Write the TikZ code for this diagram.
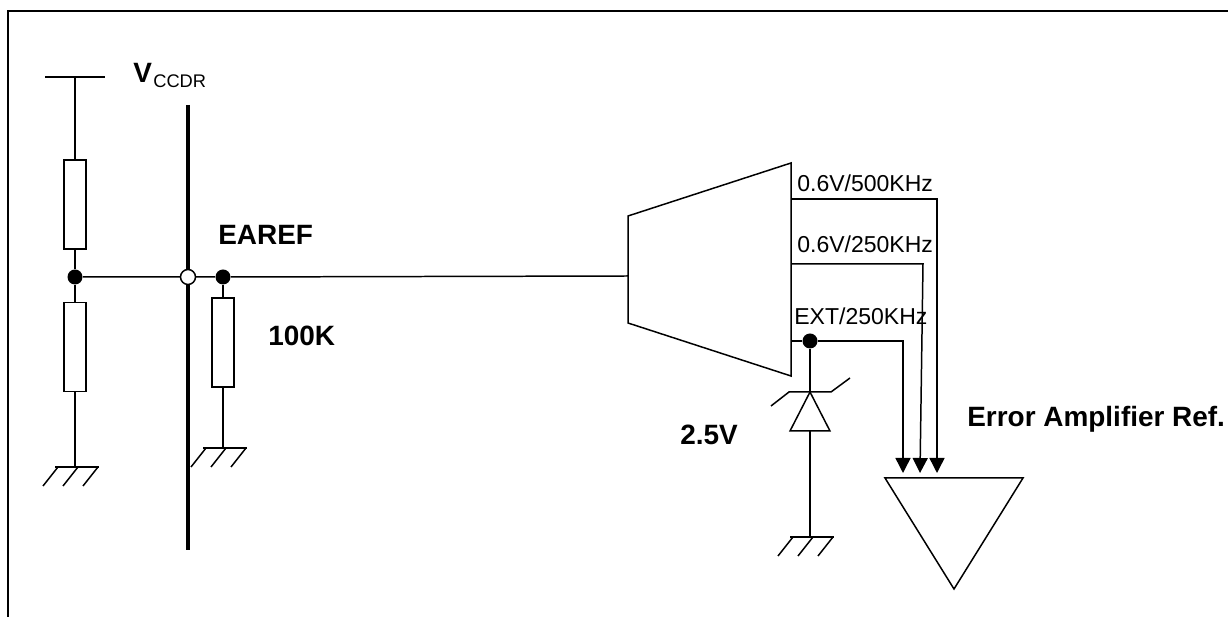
\documentclass[tikz,border=0pt]{standalone}
\usepackage{fontspec}
\setmainfont{Liberation Sans}
\usetikzlibrary{arrows.meta, calc, positioning}

\tikzset{
  wire/.style={line width=0.85pt},
  bus/.style={line width=2.3pt},
  frame/.style={line width=1.4pt},
  res/.style={draw, line width=0.85pt, fill=white, minimum width=0.44cm, minimum height=1.78cm, inner sep=0pt},
  jdot/.style={circle, fill=black, inner sep=0pt, minimum size=0.3cm},
  odot/.style={circle, draw, fill=white, line width=0.85pt, inner sep=0pt, minimum size=0.3cm},
  lbl/.style={font=\bfseries\fontsize{15.9}{18}\selectfont, inner sep=0pt, anchor=base west},
  sublbl/.style={font=\fontsize{10.4}{12}\selectfont, inner sep=0pt, anchor=base west},
  tap/.style={font=\fontsize{13.1}{15}\selectfont, inner sep=0pt, anchor=base west},
  tip/.style={-{Triangle[length=0.3cm, width=0.3cm]}},
  gnd/.pic={
    \draw[wire] (-20,0) -- (24,0);
    \foreach \h in {-17,3,23} \draw[wire] (\h,0) -- ++(-15,19);
  }
}

\begin{document}
\begin{tikzpicture}[x=0.02cm, y=-0.02cm]
  \useasboundingbox (0,0) rectangle (1228,617);

  % frame
  \draw[frame] (8,617) -- (8,11) -- (1228,11);

  % bus
  \coordinate (bustop) at (188,105);
  \coordinate (busbot) at (188,550);
  \draw[bus] (bustop) -- (busbot);

  % divider
  \coordinate (vtop) at (75,77);
  \draw[wire] ($(vtop)+(-30,0)$) -- ($(vtop)+(30,0)$);
  \node[res] (rtop) at (75,204.5) {};
  \node[res] (rbot) at (75,347) {};
  \node[jdot] (jl) at (75,277) {};
  \coordinate (gl) at (75,467);
  \draw[wire] (vtop) -- (rtop.north);
  \draw[wire] (rtop.south) -- (jl);
  \draw[wire] (jl) -- (rbot.north);
  \draw[wire] (rbot.south) -- (gl);
  \pic at (gl) {gnd};

  % EAREF pin
  \node[odot] (jb) at (188,277) {};
  \node[jdot] (je) at (223,277) {};
  \node[res] (rpin) at (223,342.5) {};
  \coordinate (ge) at (223,448);
  \draw[wire] (je) -- (rpin.north);
  \draw[wire] (rpin.south) -- (ge);
  \pic at (ge) {gnd};

  % selector
  \draw[wire] (628,216) -- (791,163) -- (791,376) -- (628,323) -- cycle;
  \coordinate (muxin) at (628,276);
  \coordinate (o1) at (791,199);
  \coordinate (o2) at (791,264);
  \coordinate (o3) at (791,341);
  \draw[wire] (jl) -- (jb) -- (je) -- (muxin);

  % taps
  \coordinate (t1) at (937,199);
  \coordinate (t2) at (923,264);
  \coordinate (t3) at (903,341);
  \coordinate (a1) at (937,473);
  \coordinate (a2) at (920,473);
  \coordinate (a3) at (903,473);
  \node[jdot] (jz) at (810,341) {};
  \draw[wire, tip] (o1) -- (t1) -- (a1);
  \draw[wire, tip] (o2) -- (t2) -- (a2);
  \draw[wire, tip] (o3) -- (jz) -- (t3) -- (a3);

  % zener
  \coordinate (zk) at (810,392);
  \coordinate (za) at (810,431);
  \coordinate (gz) at (810,537);
  \draw[wire] (jz) -- (zk);
  \draw[wire] (771,406) -- (789,392) -- (831,392) -- (850,378);
  \draw[wire] (zk) -- (790,431) -- (830,431) -- cycle;
  \draw[wire] (za) -- (gz);
  \pic at (gz) {gnd};

  % error amplifier
  \draw[wire] (885,478) -- (1023,478) -- (954,589) -- cycle;

  % labels
  \node[lbl] (vccdr) at (133,83) {V};
  \node[sublbl] (vsub) at (153,88) {CCDR};
  \node[lbl] (earef) at (218,245) {EAREF};
  \node[lbl] (rval) at (268,346) {100K};
  \node[tap] (l1) at (797,192) {0.6V/500KHz};
  \node[tap] (l2) at (797,253) {0.6V/250KHz};
  \node[tap] (l3) at (794,325) {EXT/250KHz};
  \node[lbl] (zval) at (680,445) {2.5V};
  \node[lbl] (eaname) at (967,427) {Error Amplifier Ref.};
\end{tikzpicture}
\end{document}
